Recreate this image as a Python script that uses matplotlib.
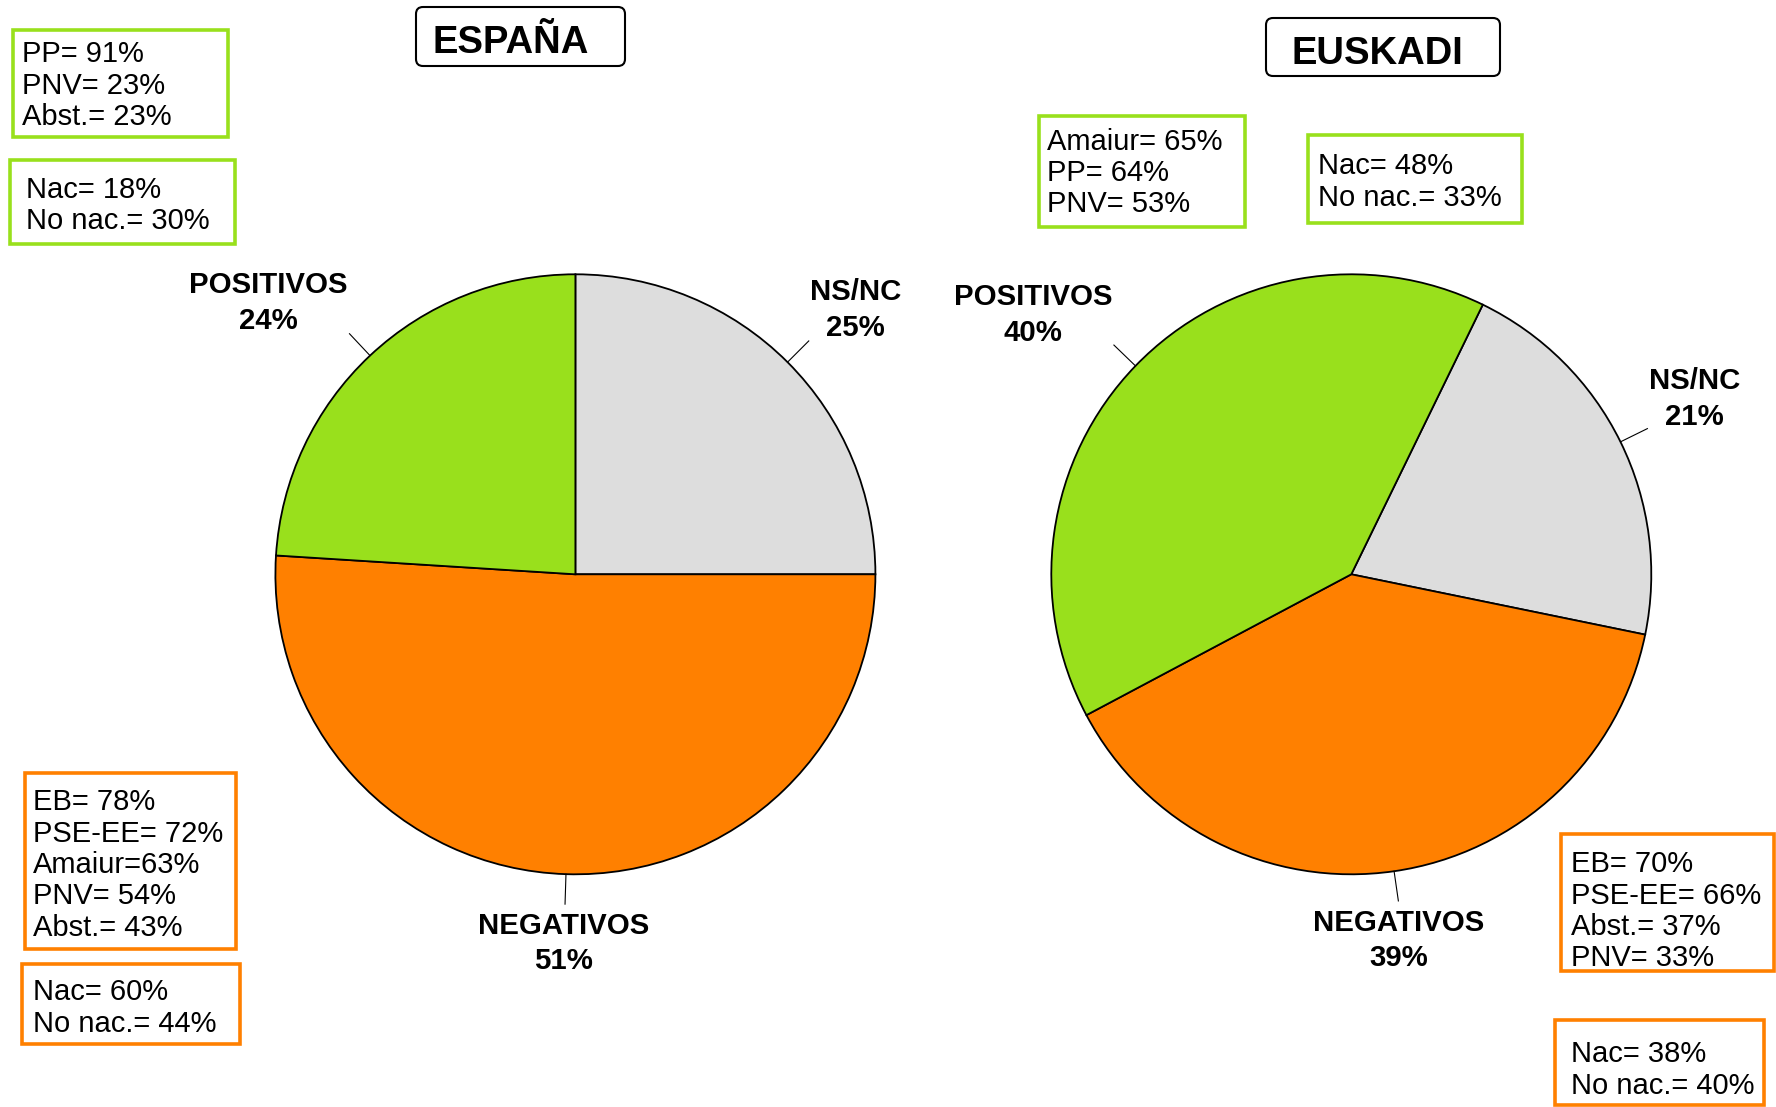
import numpy as np
import matplotlib
matplotlib.use('Agg')
import matplotlib.pyplot as plt
from matplotlib.patches import Rectangle, FancyBboxPatch

plt.rcParams['font.family'] = ['Liberation Sans', 'DejaVu Sans']

# Datos
categorias = ['NS/NC', 'NEGATIVOS', 'POSITIVOS']
espana = [25, 51, 24]
euskadi = [21, 39, 40]

esp_pos_partidos = ['PP= 91%', 'PNV= 23%', 'Abst.= 23%']
esp_pos_nac = ['Nac= 18%', 'No nac.= 30%']
esp_neg_partidos = ['EB= 78%', 'PSE-EE= 72%', 'Amaiur=63%', 'PNV= 54%', 'Abst.= 43%']
esp_neg_nac = ['Nac= 60%', 'No nac.= 44%']
eus_pos_partidos = ['Amaiur= 65%', 'PP= 64%', 'PNV= 53%']
eus_pos_nac = ['Nac= 48%', 'No nac.= 33%']
eus_neg_partidos = ['EB= 70%', 'PSE-EE= 66%', 'Abst.= 37%', 'PNV= 33%']
eus_neg_nac = ['Nac= 38%', 'No nac.= 40%']

# Estilo
VERDE = '#99E01C'
NARANJA = '#FF8000'
GRIS = '#DDDDDD'
colores = [GRIS, NARANJA, VERDE]
W, H = 1776, 1107
R = 300  # radio en pixeles
dist_etiqueta = {'NS/NC': 1.29, 'NEGATIVOS': 1.22, 'POSITIVOS': 1.375}

fig = plt.figure(figsize=(W / 100, H / 100), dpi=100)


def tarta(cx, cy, valores, inicio, giros):
    L = 1.5
    lado = 2 * L * R
    ax = fig.add_axes([(cx - lado / 2) / W, (H - cy - lado / 2) / H, lado / W, lado / H])
    ax.patch.set_visible(False)
    wedges, _ = ax.pie(valores, colors=colores, startangle=inicio, counterclock=False,
                       wedgeprops=dict(edgecolor='black', linewidth=1.3))
    for w, cat, v, g in zip(wedges, categorias, valores, giros):
        ang = np.deg2rad((w.theta1 + w.theta2) / 2)
        ax.plot([np.cos(ang), 1.1 * np.cos(ang)], [np.sin(ang), 1.1 * np.sin(ang)],
                color='black', lw=0.8)
        a2 = ang + np.deg2rad(g)
        d = dist_etiqueta[cat]
        ax.text(d * np.cos(a2), d * np.sin(a2) - 0.011, f'{cat}\n{v}%', ha='center', va='center',
                fontsize=21.2, fontweight='bold', linespacing=1.35)
    ax.set_xlim(-L, L)
    ax.set_ylim(-L, L)
    ax.set_aspect('equal')
    ax.axis('off')


tarta(575.4, 574.3, espana, 90, [-1.3, 0, 5])
tarta(1351.3, 574.3, euskadi, 64, [1.3, -0.8, 4.5])

# Capa superior en pixeles para cajas y titulos
top = fig.add_axes([0, 0, 1, 1])
top.patch.set_visible(False)
top.set_xlim(0, W)
top.set_ylim(H, 0)
top.axis('off')


def caja(x0, y0, x1, y1, color, lineas, tx, base):
    top.add_patch(Rectangle((x0, y0), x1 - x0, y1 - y0, facecolor='white',
                            edgecolor=color, lw=2.6))
    for i, t in enumerate(lineas):
        top.text(tx, base + i * 31.3, t, fontsize=21, va='baseline', ha='left')


caja(12.5, 29.5, 227.7, 137, VERDE, esp_pos_partidos, 21.5, 62.5)
caja(10, 160, 234.5, 243.5, VERDE, esp_pos_nac, 26, 197.5)
caja(25, 772.5, 235.6, 949, NARANJA, esp_neg_partidos, 33, 810.5)
caja(21.5, 964, 240, 1044, NARANJA, esp_neg_nac, 33, 1000.5)
caja(1039, 115.5, 1245, 226.5, VERDE, eus_pos_partidos, 1047, 149.5)
caja(1308, 135, 1522, 223, VERDE, eus_pos_nac, 1318, 174.5)
caja(1561, 834, 1774, 971, NARANJA, eus_neg_partidos, 1571, 872.5)
caja(1555, 1020, 1764, 1105, NARANJA, eus_neg_nac, 1571, 1062.5)


def titulo(x0, y0, x1, y1, texto, tx, base):
    top.add_patch(FancyBboxPatch((x0, y0), x1 - x0, y1 - y0,
                                 boxstyle='round,pad=0,rounding_size=7',
                                 facecolor='white', edgecolor='black', lw=1.5))
    top.text(tx, base, texto, fontsize=27.5, fontweight='bold', va='baseline', ha='left')


titulo(416, 7, 625, 66, 'ESPAÑA', 432, 53)
titulo(1266, 18, 1500, 76, 'EUSKADI', 1291, 64.5)

fig.savefig('out.png', dpi=100)
